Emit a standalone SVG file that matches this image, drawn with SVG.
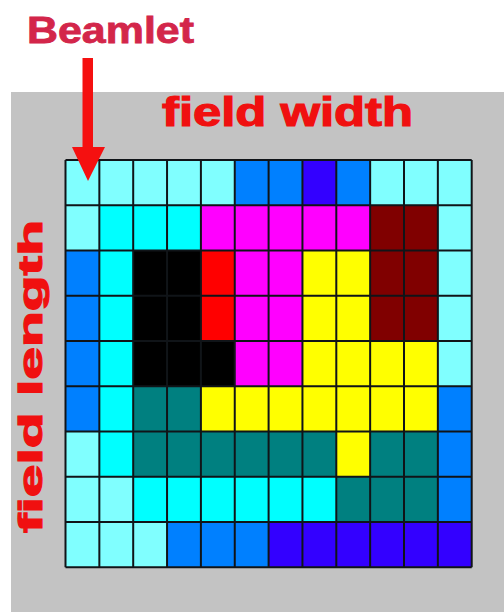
<svg xmlns="http://www.w3.org/2000/svg" width="504" height="612" viewBox="0 0 504 612">
  <style>
    .lbl { font-family: "Liberation Sans", Arial, sans-serif; font-weight: bold; }
    .lc { fill: #80ffff; }
    .c { fill: #00ffff; }
    .b { fill: #0080ff; }
    .v { fill: #3300ff; }
    .m { fill: #ff00ff; }
    .r { fill: #ff0000; }
    .k { fill: #000000; }
    .dr { fill: #800000; }
    .y { fill: #ffff00; }
    .t { fill: #008080; }
    .grid { fill: none; stroke: #101418; stroke-width: 2; }
  </style>
  <rect x="0" y="0" width="504" height="612" fill="#ffffff"/>
  <rect id="panel" x="11" y="92" width="493" height="520" fill="#c3c3c3"/>

  <g id="field" transform="translate(65.5,160) scale(33.85,45.25)">
    <!-- row 0 -->
    <rect class="lc" x="0" y="0" width="5" height="1"/>
    <rect class="b" x="5" y="0" width="2" height="1"/>
    <rect class="v" x="7" y="0" width="1" height="1"/>
    <rect class="b" x="8" y="0" width="1" height="1"/>
    <rect class="lc" x="9" y="0" width="3" height="1"/>
    <!-- row 1 -->
    <rect class="lc" x="0" y="1" width="1" height="1"/>
    <rect class="c" x="1" y="1" width="3" height="1"/>
    <rect class="m" x="4" y="1" width="5" height="1"/>
    <rect class="dr" x="9" y="1" width="2" height="1"/>
    <rect class="lc" x="11" y="1" width="1" height="1"/>
    <!-- rows 2-3 -->
    <rect class="b" x="0" y="2" width="1" height="2"/>
    <rect class="c" x="1" y="2" width="1" height="2"/>
    <rect class="k" x="2" y="2" width="2" height="2"/>
    <rect class="r" x="4" y="2" width="1" height="2"/>
    <rect class="m" x="5" y="2" width="2" height="2"/>
    <rect class="y" x="7" y="2" width="2" height="2"/>
    <rect class="dr" x="9" y="2" width="2" height="2"/>
    <rect class="lc" x="11" y="2" width="1" height="2"/>
    <!-- row 4 -->
    <rect class="b" x="0" y="4" width="1" height="1"/>
    <rect class="c" x="1" y="4" width="1" height="1"/>
    <rect class="k" x="2" y="4" width="3" height="1"/>
    <rect class="m" x="5" y="4" width="2" height="1"/>
    <rect class="y" x="7" y="4" width="4" height="1"/>
    <rect class="lc" x="11" y="4" width="1" height="1"/>
    <!-- row 5 -->
    <rect class="b" x="0" y="5" width="1" height="1"/>
    <rect class="c" x="1" y="5" width="1" height="1"/>
    <rect class="t" x="2" y="5" width="2" height="1"/>
    <rect class="y" x="4" y="5" width="7" height="1"/>
    <rect class="b" x="11" y="5" width="1" height="1"/>
    <!-- row 6 -->
    <rect class="lc" x="0" y="6" width="1" height="1"/>
    <rect class="c" x="1" y="6" width="1" height="1"/>
    <rect class="t" x="2" y="6" width="6" height="1"/>
    <rect class="y" x="8" y="6" width="1" height="1"/>
    <rect class="t" x="9" y="6" width="2" height="1"/>
    <rect class="b" x="11" y="6" width="1" height="1"/>
    <!-- row 7 -->
    <rect class="lc" x="0" y="7" width="2" height="1"/>
    <rect class="c" x="2" y="7" width="6" height="1"/>
    <rect class="t" x="8" y="7" width="3" height="1"/>
    <rect class="b" x="11" y="7" width="1" height="1"/>
    <!-- row 8 -->
    <rect class="lc" x="0" y="8" width="3" height="1"/>
    <rect class="b" x="3" y="8" width="3" height="1"/>
    <rect class="v" x="6" y="8" width="6" height="1"/>
    <!-- grid lines -->
    <path class="grid" vector-effect="non-scaling-stroke" d="M0 0V9M1 0V9M2 0V9M3 0V9M4 0V9M5 0V9M6 0V9M7 0V9M8 0V9M9 0V9M10 0V9M11 0V9M12 0V9M0 0H12M0 1H12M0 2H12M0 3H12M0 4H12M0 5H12M0 6H12M0 7H12M0 8H12M0 9H12"/>
  </g>

  <g id="connectors">
    <polygon id="beamlet-arrow" fill="#f51010" points="82.5,58 93,58 93,147 105,147 88,181 72,147 82.5,147"/>
  </g>

  <g id="label-beamlet">
    <text class="lbl" x="27" y="43" font-size="36" fill="#d3264a" stroke="#d3264a" stroke-width="0.8" textLength="167" lengthAdjust="spacingAndGlyphs">Beamlet</text>
  </g>
  <g id="label-width">
    <text class="lbl" x="162" y="126" font-size="40" fill="#f01010" stroke="#f01010" stroke-width="1.2" textLength="251" lengthAdjust="spacingAndGlyphs">field width</text>
  </g>
  <g id="label-length">
    <text class="lbl" transform="translate(42,533) rotate(-90)" x="0" y="0" font-size="34" fill="#f01010" stroke="#f01010" stroke-width="1.2" textLength="313" lengthAdjust="spacingAndGlyphs">field length</text>
  </g>
</svg>
